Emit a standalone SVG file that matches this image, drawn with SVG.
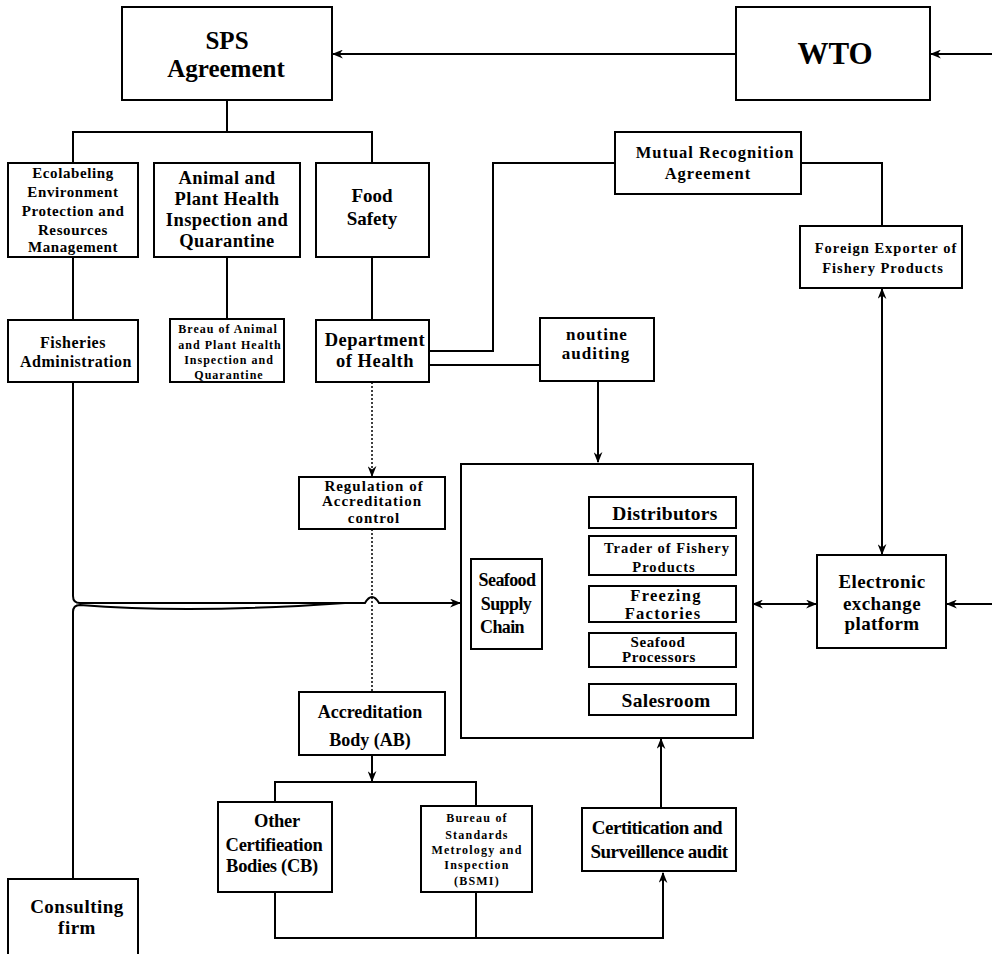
<svg xmlns="http://www.w3.org/2000/svg" width="992" height="954" viewBox="0 0 992 954">
<style>
.b{fill:#fff;stroke:#000;stroke-width:2}
.t{font-family:"Liberation Serif","Times New Roman",serif;font-weight:bold;fill:#000;text-anchor:middle}
.c{fill:none;stroke:#000;stroke-width:2}
.d{fill:none;stroke:#000;stroke-width:1.5;stroke-dasharray:2 2}
</style>
<defs>
<marker id="a" viewBox="0 0 10 8" refX="9" refY="4" markerWidth="11" markerHeight="9" markerUnits="userSpaceOnUse" orient="auto-start-reverse">
<path d="M0,0 L10,4 L0,8 L3,4 Z" fill="#000"/>
</marker>
</defs>
<rect width="992" height="954" fill="#fff"/>
<g id="connectors">
<path class="c" d="M736,54 H333" marker-end="url(#a)"/>
<path class="c" d="M992,54 H931" marker-end="url(#a)"/>
<path class="c" d="M227,100 V132 M73,163 V132 H372 V163"/>
<path class="c" d="M73,257 V320 M227,257 V319 M372,257 V320"/>
<path class="c" d="M429,351 H493 V163 H615"/>
<path class="c" d="M429,365 H540"/>
<path class="c" d="M801,163 H882 V226"/>
<path class="c" d="M882,289 V554" marker-start="url(#a)" marker-end="url(#a)"/>
<path class="c" d="M598,381 V462" marker-end="url(#a)"/>
<path class="d" d="M372,382 V476" marker-end="url(#a)"/>
<path class="d" d="M372,529 V692"/>
<path class="c" d="M73,382 V596 Q73,603 80,603 H365 Q372,591 379,603 H460" marker-end="url(#a)"/>
<path class="c" d="M73,879 V612 Q73,605 80,605 Q190,614 345,603"/>
<path class="c" d="M753,604 H816" marker-start="url(#a)" marker-end="url(#a)"/>
<path class="c" d="M992,604 H947" marker-end="url(#a)"/>
<path class="c" d="M542,604 H556"/>
<path class="c" stroke-width="3" d="M556,604 V649"/>
<path class="c" d="M589,512 H556 V699 H589 M556,555 H589 M556,604 H589 M556,649 H589"/>
<path class="c" d="M372,755 V781" marker-end="url(#a)"/>
<path class="c" d="M275,802 V782 H476 V806"/>
<path class="c" d="M275,892 V938 H663 V873" marker-end="url(#a)"/>
<path class="c" d="M476,892 V938"/>
<path class="c" d="M661,808 V739" marker-end="url(#a)"/>
</g>
<g id="sps"><rect class="b" x="122" y="7" width="210" height="93"/>
<text class="t" font-size="25" x="227" y="49">SPS</text><text class="t" font-size="25" x="226" y="77">Agreement</text></g>
<g id="wto"><rect class="b" x="736" y="7" width="194" height="93"/>
<text class="t" font-size="31" x="835" y="64">WTO</text></g>
<g id="ecolabeling"><rect class="b" x="8" y="163" width="130" height="94"/>
<g class="t" font-size="15" letter-spacing="0.6"><text x="73" y="178">Ecolabeling</text><text x="73" y="197">Environment</text><text x="73" y="216">Protection and</text><text x="73" y="235">Resources</text><text x="73" y="252">Management</text></g></g>
<g id="animal"><rect class="b" x="154" y="163" width="146" height="94"/>
<g class="t" font-size="18.5" letter-spacing="0.4"><text x="227" y="184">Animal and</text><text x="227" y="205">Plant Health</text><text x="227" y="226">Inspection and</text><text x="227" y="247">Quarantine</text></g></g>
<g id="food"><rect class="b" x="316" y="163" width="113" height="94"/>
<g class="t" font-size="19"><text x="372" y="202">Food</text><text x="372" y="225">Safety</text></g></g>
<g id="fisheries"><rect class="b" x="8" y="320" width="130" height="62"/>
<g class="t" font-size="16" letter-spacing="0.5"><text x="73" y="348">Fisheries</text><text x="76" y="367">Administration</text></g></g>
<g id="breau"><rect class="b" x="170" y="319" width="114" height="63"/>
<g class="t" font-size="12" letter-spacing="1"><text x="228" y="333">Breau of Animal</text><text x="230" y="349">and Plant Health</text><text x="229" y="364">Inspection and</text><text x="229" y="379">Quarantine</text></g></g>
<g id="health"><rect class="b" x="316" y="320" width="113" height="62"/>
<g class="t" font-size="18.5" letter-spacing="0.5"><text x="375" y="346">Department</text><text x="375" y="367">of Health</text></g></g>
<g id="mra"><rect class="b" x="615" y="132" width="186" height="62"/>
<g class="t" font-size="16.5" letter-spacing="1"><text x="715" y="158">Mutual Recognition</text><text x="708" y="179">Agreement</text></g></g>
<g id="foreign"><rect class="b" x="800" y="226" width="162" height="62"/>
<g class="t" font-size="14.5" letter-spacing="1"><text x="886" y="253">Foreign Exporter of</text><text x="883" y="273">Fishery Products</text></g></g>
<g id="noutine"><rect class="b" x="540" y="318" width="114" height="63"/>
<g class="t" font-size="17" letter-spacing="1"><text x="597" y="340">noutine</text><text x="596" y="359">auditing</text></g></g>
<g id="regulation"><rect class="b" x="299" y="477" width="146" height="52"/>
<g class="t" font-size="15" letter-spacing="1"><text x="374" y="491">Regulation of</text><text x="372" y="506">Accreditation</text><text x="374" y="523">control</text></g></g>
<g id="supplychain"><rect class="b" x="461" y="464" width="292" height="274"/></g>
<g id="seafoodsc"><rect class="b" x="471" y="559" width="71" height="90"/>
<g class="t" font-size="18" letter-spacing="-0.6"><text x="507" y="586">Seafood</text><text x="506" y="610">Supply</text><text x="502" y="633">Chain</text></g></g>
<g id="distributors"><rect class="b" x="589" y="497" width="147" height="31"/>
<text class="t" font-size="19.5" letter-spacing="0.3" x="665" y="520">Distributors</text></g>
<g id="trader"><rect class="b" x="589" y="536" width="147" height="39"/>
<g class="t" font-size="14.5" letter-spacing="1"><text x="667" y="553">Trader of Fishery</text><text x="664" y="572">Products</text></g></g>
<g id="freezing"><rect class="b" x="589" y="586" width="147" height="36"/>
<g class="t" font-size="16.5" letter-spacing="1.3"><text x="666" y="601">Freezing</text><text x="663" y="619">Factories</text></g></g>
<g id="processors"><rect class="b" x="589" y="633" width="147" height="34"/>
<g class="t" font-size="15" letter-spacing="0.6"><text x="658" y="647">Seafood</text><text x="659" y="662">Processors</text></g></g>
<g id="salesroom"><rect class="b" x="589" y="684" width="147" height="31"/>
<text class="t" font-size="19.5" letter-spacing="0.3" x="666" y="707">Salesroom</text></g>
<g id="electronic"><rect class="b" x="817" y="555" width="129" height="93"/>
<g class="t" font-size="19" letter-spacing="0.4"><text x="882" y="588">Electronic</text><text x="882" y="610">exchange</text><text x="882" y="630">platform</text></g></g>
<g id="ab"><rect class="b" x="299" y="692" width="146" height="63"/>
<g class="t" font-size="18"><text x="370" y="718">Accreditation</text><text x="370" y="746">Body (AB)</text></g></g>
<g id="othercb"><rect class="b" x="218" y="802" width="114" height="90"/>
<g class="t" font-size="18.5" letter-spacing="-0.3"><text x="277" y="827">Other</text><text x="274" y="851">Certifieation</text><text x="272" y="872">Bodies (CB)</text></g></g>
<g id="bsmi"><rect class="b" x="421" y="806" width="111" height="86"/>
<g class="t" font-size="12" letter-spacing="1.2"><text x="477" y="822">Bureau of</text><text x="477" y="839">Standards</text><text x="477" y="854">Metrology and</text><text x="477" y="869">Inspection</text><text x="477" y="885">(BSMI)</text></g></g>
<g id="certification"><rect class="b" x="582" y="808" width="154" height="63"/>
<g class="t" font-size="19" letter-spacing="-0.5"><text x="657" y="834">Certitication and</text><text x="659" y="858">Surveillence audit</text></g></g>
<g id="consulting"><rect class="b" x="8" y="879" width="130" height="85"/>
<g class="t" font-size="19" letter-spacing="0.5"><text x="77" y="913">Consulting</text><text x="77" y="934">firm</text></g></g>
</svg>
